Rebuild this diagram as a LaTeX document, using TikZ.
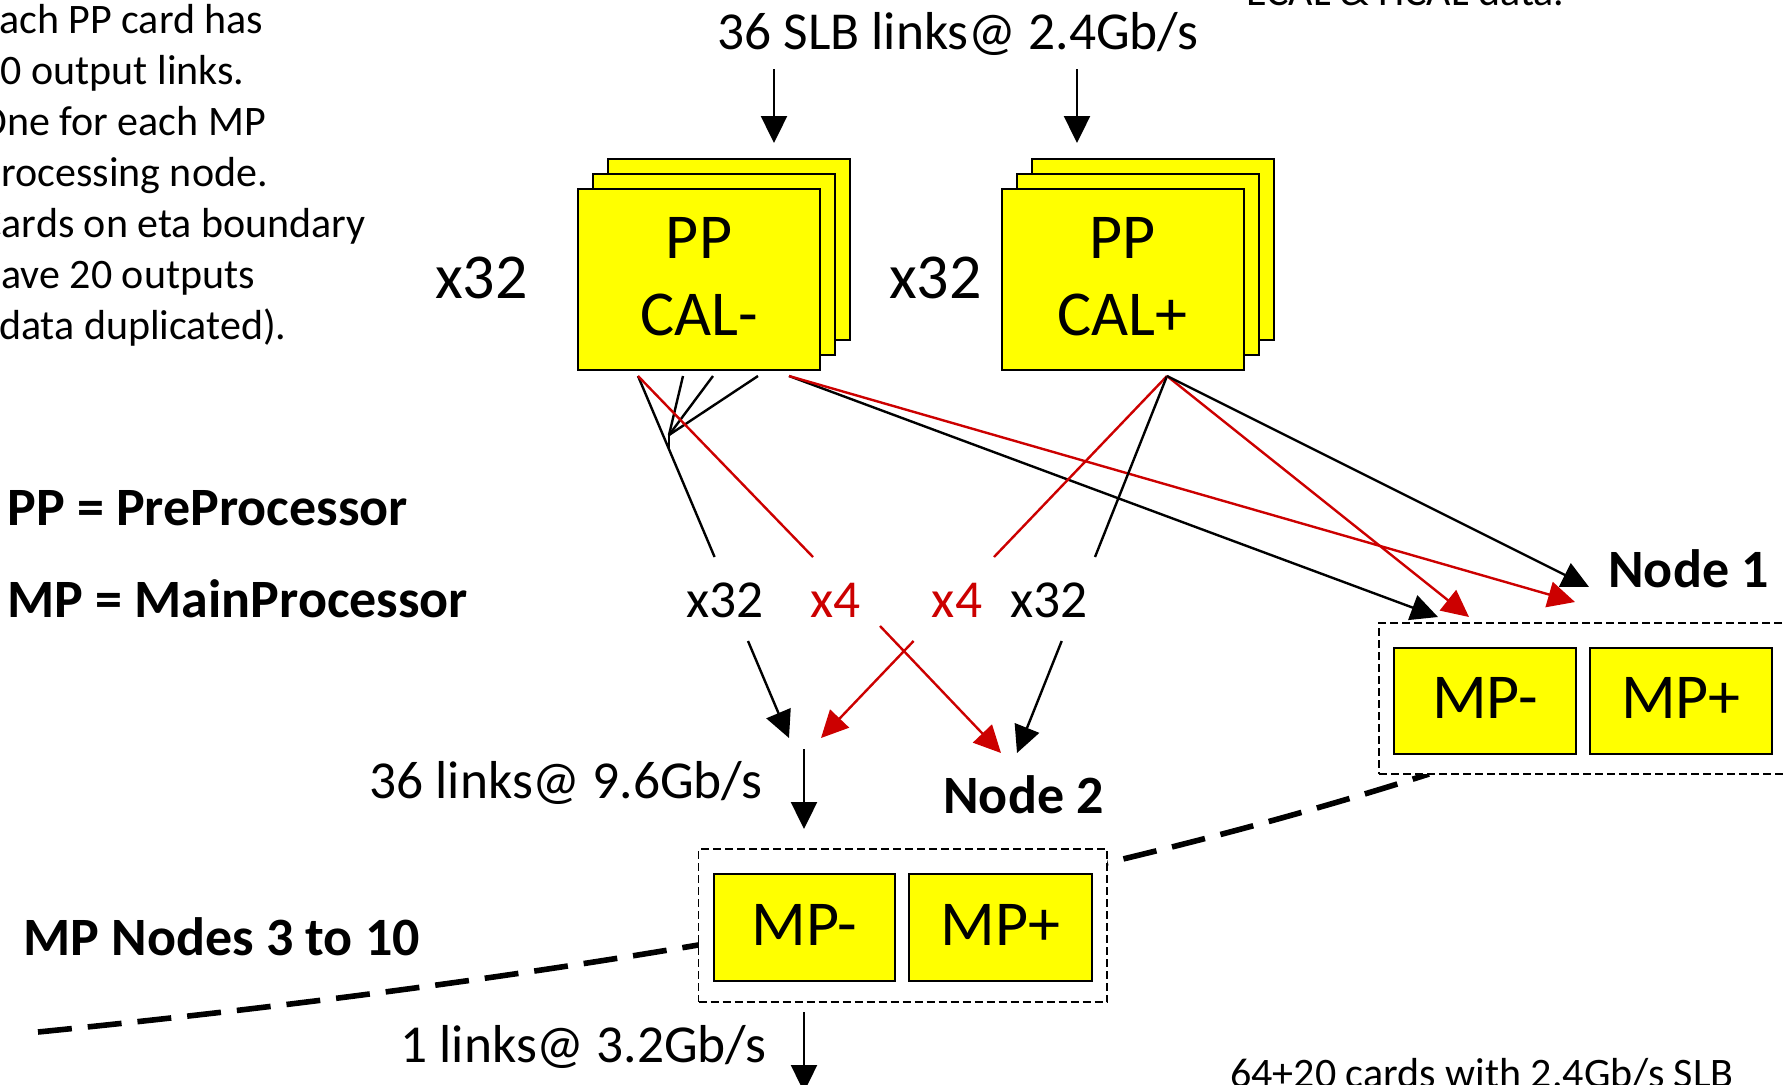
\documentclass[tikz,border=0pt]{standalone}
\usepackage{fontspec}
\setmainfont{Carlito}
\usetikzlibrary{arrows.meta}
\definecolor{pptred}{RGB}{204,0,0}
\definecolor{pptyellow}{RGB}{255,255,0}
\newcommand{\FMain}{\fontsize{26.7pt}{32pt}\selectfont}
\newcommand{\FNote}{\fontsize{21pt}{25.5pt}\selectfont}
\newcommand{\FBig}{\fontsize{32pt}{38.5pt}\selectfont}
\begin{document}
\begin{tikzpicture}[x=0.5pt,y=-0.5pt,
  card/.style={draw=black, fill=pptyellow, line width=1pt, rectangle, inner sep=0pt,
               minimum width=121pt, minimum height=90.5pt},
  cardtext/.style={card, font=\FBig, align=center, text depth=3pt},
  mpbox/.style={draw=black, fill=pptyellow, line width=1pt, rectangle, inner sep=0pt,
                minimum height=53pt, font=\FBig, text depth=3pt},
  nodebox/.style={draw=black, fill=white, dash pattern=on 4pt off 2pt, line width=0.8pt,
                  rectangle, inner sep=0pt},
  txt/.style={inner sep=0pt, font=\FMain},
  bigtxt/.style={inner sep=0pt, font=\FBig},
  note/.style={inner sep=0pt, anchor=base west, font=\FNote},
  lbl/.style={inner sep=0pt, anchor=base west, font=\fontsize{27pt}{32pt}\selectfont\bfseries},
  plain/.style={line width=1.2pt, draw=black},
  link/.style={plain, -{Triangle[length=13.5pt,width=13pt]}},
  redplain/.style={line width=1.2pt, draw=pptred},
  redlink/.style={redplain, -{Triangle[length=13.5pt,width=13pt]}},
  bigdash/.style={line width=2.8pt, dash pattern=on 17pt off 8pt}
]
\useasboundingbox (0,0) rectangle (1785,1084);
\clip (0,0) rectangle (1785,1084);

% ---------- notes (clipped at the frame, as in the reference) ----------
\node[note] (note1) at (-21,33)  {Each PP card has};
\node[note] (note2) at (-21,84)  {10 output links.};
\node[note] (note3) at (-21,135) {One for each MP};
\node[note] (note4) at (-21,186) {processing node.};
\node[note] (note5) at (-21,237) {Cards on eta boundary};
\node[note] (note6) at (-21,288) {have 20 outputs};
\node[note] (note7) at (-14,339) {(data duplicated).};
\node[note] (ecal)  at (1246,5)    {ECAL \& HCAL data.};
\node[note] (cards) at (1230,1087) {64+20 cards with 2.4Gb/s SLB};

\node[lbl] (ppdef) at (7,525) {PP = PreProcessor};
\node[lbl] (mpdef) at (7,617) {MP = MainProcessor};
\node[lbl] (rest)  at (23,955) {MP Nodes 3 to 10};

% ---------- input ----------
\node[txt, anchor=base] (slb) at (958,49.5) {36 SLB links@ 2.4Gb/s};
\coordinate (inL0) at (774,69);  \coordinate (inL1) at (774,143);
\coordinate (inR0) at (1077,69); \coordinate (inR1) at (1077,143);
\draw[link] (inL0) -- (inL1);
\draw[link] (inR0) -- (inR1);

% ---------- PP card stacks ----------
\node[card] (cmB) at (729,249.5) {};
\node[card] (cmM) at (714,264.5) {};
\node[cardtext] (cm) at (699,279.5) {PP\\CAL-};
\node[card] (cpB) at (1152.5,249.5) {};
\node[card] (cpM) at (1137.5,264.5) {};
\node[cardtext] (cp) at (1122.5,279.5) {PP\\CAL+};
\node[bigtxt, anchor=base] (mulL) at (481.5,298) {x32};
\node[bigtxt, anchor=base] (mulR) at (935.5,298) {x32};

% ---------- link points ----------
\coordinate (pL1) at (638,376);
\coordinate (pL2) at (683,376);
\coordinate (pL3) at (713,376);
\coordinate (pL4) at (758,376);
\coordinate (pL5) at (789,376);
\coordinate (pR)  at (1167,376);
\coordinate (J)   at (669,435);
\coordinate (Jm)  at (669,450);
\coordinate (a1) at (714.6,557);
\coordinate (a2) at (813,557);
\coordinate (a3) at (994,557);
\coordinate (a4) at (1095,557);
\coordinate (t1) at (1438,617);
\coordinate (t2) at (1469,617);
\coordinate (t3) at (1575,602);
\coordinate (t4) at (1589,587);

\draw[plain] (pL1) -- (a1);
\draw[plain] (pL2) -- (J);
\draw[plain] (pL3) -- (J);
\draw[plain] (pL4) -- (J);
\draw[plain] (J) -- (Jm);
\draw[redplain] (pL1) -- (a2);
\draw[link] (pL5) -- (t1);
\draw[redlink] (pL5) -- (t3);
\draw[redplain] (pR) -- (a3);
\draw[plain] (pR) -- (a4);
\draw[redlink] (pR) -- (t2);
\draw[link] (pR) -- (t4);

% ---------- multiplicity labels ----------
\node[txt, anchor=base] (xa) at (725,617) {x32};
\node[txt, anchor=base, text=pptred] (xb) at (835.5,617) {x4};
\node[txt, anchor=base, text=pptred] (xc) at (957,617) {x4};
\node[txt, anchor=base] (xd) at (1049,617) {x32};

\coordinate (b1s) at (748,641);   \coordinate (b1e) at (789,738);
\coordinate (b2s) at (913.6,641); \coordinate (b2e) at (821,738);
\coordinate (b3s) at (880,626);   \coordinate (b3e) at (1001,753);
\coordinate (b4s) at (1061.7,641);\coordinate (b4e) at (1017,753);
\draw[link] (b1s) -- (b1e);
\draw[redlink] (b2s) -- (b2e);
\draw[redlink] (b3s) -- (b3e);
\draw[link] (b4s) -- (b4e);

\node[txt, anchor=base east] (r96) at (763,798) {36 links@ 9.6Gb/s};
\coordinate (v1s) at (804,749);  \coordinate (v1e) at (804,829);
\draw[link] (v1s) -- (v1e);
\node[txt, anchor=base east] (r32) at (767,1062) {1 links@ 3.2Gb/s};
\coordinate (v2s) at (804,1012); \coordinate (v2e) at (804,1092);
\draw[link] (v2s) -- (v2e);

% ---------- big dashed curve (behind node boxes) ----------
\coordinate (cA) at (38,1032);
\coordinate (cB) at (1429,774);
\draw[bigdash] (cA) .. controls (605.3,975.3) and (1069,889.3) .. (cB);

% ---------- MP nodes ----------
\node[nodebox, minimum width=204pt, minimum height=75.5pt] (node1) at (1583,698.5) {};
\node[mpbox, minimum width=91pt] (n1m) at (1485,701) {MP-};
\node[mpbox, minimum width=91pt] (n1p) at (1681,701) {MP+};
\node[lbl] (n1lbl) at (1608,587) {Node 1};

\node[nodebox, minimum width=204.25pt, minimum height=76.5pt] (node2) at (902.75,925.5) {};
\node[mpbox, minimum width=90.5pt, minimum height=53.5pt] (n2m) at (804.5,927.5) {MP-};
\node[mpbox, minimum width=91.5pt, minimum height=53.5pt] (n2p) at (1000.5,927.5) {MP+};
\node[lbl] (n2lbl) at (943,813) {Node 2};
\end{tikzpicture}
\end{document}
